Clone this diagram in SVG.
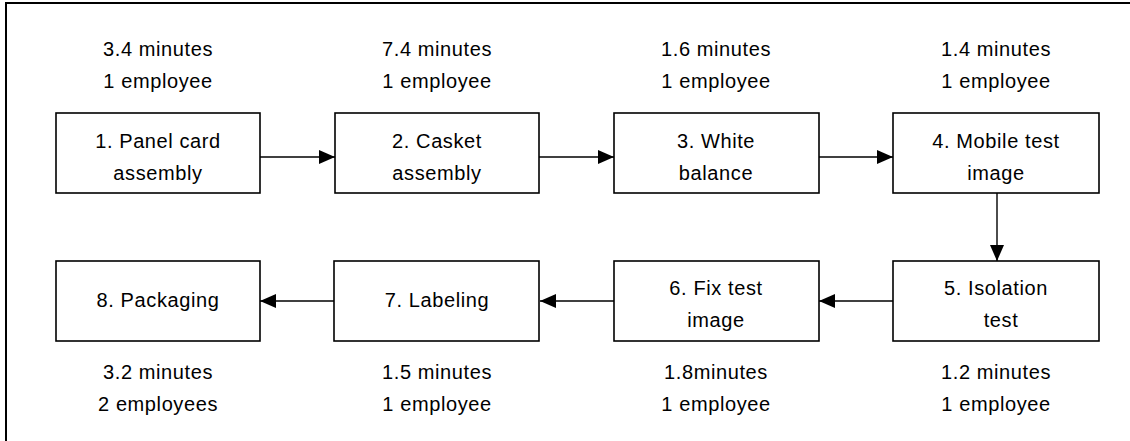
<svg xmlns="http://www.w3.org/2000/svg" width="1130" height="441" viewBox="0 0 1130 441">
<style>
text{font-family:"Liberation Sans",Arial,sans-serif;font-size:20px;letter-spacing:0.6px;fill:#000;text-anchor:middle}
.box{fill:#fff;stroke:#000;stroke-width:1.6}
.conn{stroke:#000;stroke-width:1.4;fill:none}
</style>
<defs>
<marker id="ah" markerUnits="userSpaceOnUse" markerWidth="16" markerHeight="14" refX="16" refY="7" orient="auto">
<path d="M0,0 L16,7 L0,14 z" fill="#000"/>
</marker>
</defs>
<rect x="0" y="0" width="1130" height="441" fill="#fff"/>
<rect x="6" y="3" width="1140" height="460" fill="none" stroke="#000" stroke-width="2"/>
<g id="labels">
<text x="158" y="56">3.4 minutes</text>
<text x="158" y="88">1 employee</text>
<text x="437" y="56">7.4 minutes</text>
<text x="437" y="88">1 employee</text>
<text x="716" y="56">1.6 minutes</text>
<text x="716" y="88">1 employee</text>
<text x="996" y="56">1.4 minutes</text>
<text x="996" y="88">1 employee</text>
<text x="158" y="379">3.2 minutes</text>
<text x="158" y="411">2 employees</text>
<text x="437" y="379">1.5 minutes</text>
<text x="437" y="411">1 employee</text>
<text x="716" y="379">1.8minutes</text>
<text x="716" y="411">1 employee</text>
<text x="996" y="379">1.2 minutes</text>
<text x="996" y="411">1 employee</text>
</g>
<g id="connectors">
<line class="conn" x1="258" y1="157" x2="335" y2="157" marker-end="url(#ah)"/>
<line class="conn" x1="539" y1="157" x2="614" y2="157" marker-end="url(#ah)"/>
<line class="conn" x1="819" y1="157" x2="893" y2="157" marker-end="url(#ah)"/>
<line class="conn" x1="997" y1="193" x2="997" y2="261" marker-end="url(#ah)"/>
<line class="conn" x1="893" y1="301" x2="819" y2="301" marker-end="url(#ah)"/>
<line class="conn" x1="616" y1="301" x2="540" y2="301" marker-end="url(#ah)"/>
<line class="conn" x1="334" y1="301" x2="260" y2="301" marker-end="url(#ah)"/>
</g>
<g id="node1"><rect class="box" x="56" y="113" width="204" height="80"/><text x="158" y="148">1. Panel card</text><text x="158" y="180">assembly</text></g>
<g id="node2"><rect class="box" x="335" y="113" width="204" height="80"/><text x="437" y="148">2. Casket</text><text x="437" y="180">assembly</text></g>
<g id="node3"><rect class="box" x="614" y="113" width="205" height="80"/><text x="716" y="148">3. White</text><text x="716" y="180">balance</text></g>
<g id="node4"><rect class="box" x="893" y="113" width="206" height="80"/><text x="996" y="148">4. Mobile test</text><text x="996" y="180">image</text></g>
<g id="node5"><rect class="box" x="893" y="261" width="206" height="80"/><text x="996" y="295">5. Isolation</text><text x="1001" y="327">test</text></g>
<g id="node6"><rect class="box" x="614" y="261" width="205" height="80"/><text x="716" y="295">6. Fix test</text><text x="716" y="327">image</text></g>
<g id="node7"><rect class="box" x="334" y="261" width="205" height="80"/><text x="437" y="307">7. Labeling</text></g>
<g id="node8"><rect class="box" x="56" y="261" width="204" height="80"/><text x="158" y="307">8. Packaging</text></g>
</svg>
